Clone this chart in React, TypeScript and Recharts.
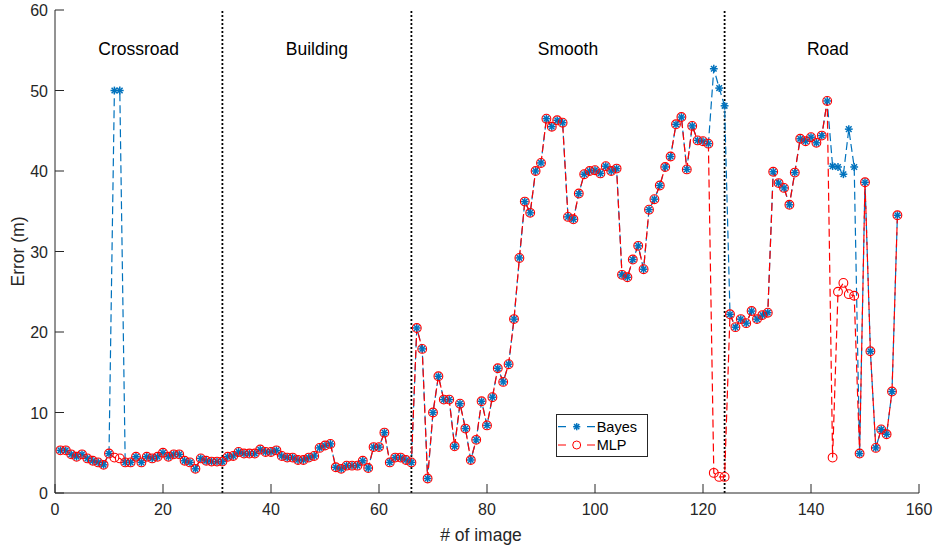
import React from "react";
import {
	LineChart,
	Line,
	XAxis,
	YAxis,
	ReferenceLine,
	ReferenceArea,
	Legend,
} from "recharts";

// error per image (index 1..156)
const bayesError = [
	5.3, 5.3, 4.8, 4.5, 4.8, 4.3, 4.0, 3.8, 3.5, 4.9,
	50.0, 50.0, 3.8, 3.8, 4.5, 3.8, 4.5, 4.3, 4.5, 5.0,
	4.5, 4.8, 4.8, 4.0, 3.8, 3.0, 4.3, 4.0, 3.9, 3.9,
	3.9, 4.5, 4.6, 5.1, 4.9, 4.9, 4.9, 5.4, 5.1, 5.1,
	5.3, 4.6, 4.4, 4.4, 4.1, 4.1, 4.4, 4.6, 5.6, 5.9,
	6.1, 3.2, 3.0, 3.4, 3.4, 3.4, 4.0, 3.1, 5.7, 5.7,
	7.5, 3.8, 4.4, 4.4, 4.1, 3.8, 20.5, 17.9, 1.8, 10.0,
	14.5, 11.6, 11.6, 5.8, 11.1, 8.0, 4.1, 6.6, 11.4, 8.4,
	11.9, 15.5, 13.8, 16.0, 21.6, 29.2, 36.2, 34.8, 40.0, 41.0,
	46.5, 45.5, 46.3, 46.0, 34.3, 34.0, 37.2, 39.6, 40.0, 40.1,
	39.7, 40.6, 40.0, 40.3, 27.1, 26.8, 29.0, 30.7, 27.8, 35.2,
	36.5, 38.2, 40.5, 41.8, 45.8, 46.7, 40.2, 45.6, 43.8, 43.7,
	43.4, 52.7, 50.3, 48.1, 22.2, 20.6, 21.6, 21.1, 22.6, 21.6,
	22.1, 22.4, 39.9, 38.5, 37.9, 35.8, 39.8, 44.0, 43.7, 44.2,
	43.5, 44.4, 48.7, 40.6, 40.5, 39.6, 45.2, 40.5, 4.9, 38.6,
	17.6, 5.6, 7.9, 7.3, 12.6, 34.5,
];

const mlpError = [
	5.3, 5.3, 4.8, 4.5, 4.8, 4.3, 4.0, 3.8, 3.5, 4.9,
	4.4, 4.3, 3.8, 3.8, 4.5, 3.8, 4.5, 4.3, 4.5, 5.0,
	4.5, 4.8, 4.8, 4.0, 3.8, 3.0, 4.3, 4.0, 3.9, 3.9,
	3.9, 4.5, 4.6, 5.1, 4.9, 4.9, 4.9, 5.4, 5.1, 5.1,
	5.3, 4.6, 4.4, 4.4, 4.1, 4.1, 4.4, 4.6, 5.6, 5.9,
	6.1, 3.2, 3.0, 3.4, 3.4, 3.4, 4.0, 3.1, 5.7, 5.7,
	7.5, 3.8, 4.4, 4.4, 4.1, 3.8, 20.5, 17.9, 1.8, 10.0,
	14.5, 11.6, 11.6, 5.8, 11.1, 8.0, 4.1, 6.6, 11.4, 8.4,
	11.9, 15.5, 13.8, 16.0, 21.6, 29.2, 36.2, 34.8, 40.0, 41.0,
	46.5, 45.5, 46.3, 46.0, 34.3, 34.0, 37.2, 39.6, 40.0, 40.1,
	39.7, 40.6, 40.0, 40.3, 27.1, 26.8, 29.0, 30.7, 27.8, 35.2,
	36.5, 38.2, 40.5, 41.8, 45.8, 46.7, 40.2, 45.6, 43.8, 43.7,
	43.4, 2.5, 2.0, 2.0, 22.2, 20.6, 21.6, 21.1, 22.6, 21.6,
	22.1, 22.4, 39.9, 38.5, 37.9, 35.8, 39.8, 44.0, 43.7, 44.2,
	43.5, 44.4, 48.7, 4.4, 25.0, 26.1, 24.7, 24.5, 4.9, 38.6,
	17.6, 5.6, 7.9, 7.3, 12.6, 34.5,
];

const xTicks = [0, 20, 40, 60, 80, 100, 120, 140, 160];
const yTicks = [0, 10, 20, 30, 40, 50, 60];

const sectionNames = ["Crossroad", "Building", "Smooth", "Road"];
const sectionBounds = [0, 31, 66, 124, 160];

const data = bayesError.map((b, i) => ({
	image: i + 1,
	bayes: b,
	mlp: mlpError[i],
}));

const AXIS = "#262626";
const FONT = "'Liberation Sans', Arial, Helvetica, sans-serif";
const BLUE = "#0072BD";
const RED = "#FF0000";
const TICK = 9;

const Star = ({ cx, cy, r = 3.9 }: any) => {
	if (cx == null || cy == null) return <g />;
	const d = r * 0.72;
	return (
		<g stroke={BLUE} strokeWidth={1.5}>
			<line x1={cx - r} x2={cx + r} y1={cy} y2={cy} />
			<line x1={cx} x2={cx} y1={cy - r} y2={cy + r} />
			<line x1={cx - d} x2={cx + d} y1={cy - d} y2={cy + d} />
			<line x1={cx - d} x2={cx + d} y1={cy + d} y2={cy - d} />
		</g>
	);
};

const Ring = ({ cx, cy }: any) => {
	if (cx == null || cy == null) return <g />;
	return <circle cx={cx} cy={cy} r={4.4} fill="none" stroke={RED} strokeWidth={1.1} />;
};

const BottomTick = ({ x, y, payload }: any) => (
	<g>
		<line x1={x} x2={x} y1={y} y2={y - TICK} stroke={AXIS} />
		<text x={x} y={y + 22} textAnchor="middle" fontSize={16} fill={AXIS} fontFamily={FONT}>
			{payload.value}
		</text>
	</g>
);

const LeftTick = ({ x, y, payload }: any) => (
	<g>
		<line x1={x} x2={x + TICK} y1={y} y2={y} stroke={AXIS} />
		<text x={x - 7} y={y + 6} textAnchor="end" fontSize={16} fill={AXIS} fontFamily={FONT}>
			{payload.value}
		</text>
	</g>
);

const TopTick = ({ x, y }: any) => (
	<line x1={x} x2={x} y1={y} y2={y + TICK} stroke={AXIS} />
);

const RightTick = ({ x, y }: any) => (
	<line x1={x} x2={x - TICK} y1={y} y2={y} stroke={AXIS} />
);

const legendItems = [
	{ name: "Bayes", color: BLUE, marker: "star" },
	{ name: "MLP", color: RED, marker: "ring" },
];

const LegendBox = () => (
	<div
		style={{
			width: 92,
			height: 43,
			boxSizing: "border-box",
			border: `1px solid ${AXIS}`,
			background: "#fff",
		}}
	>
		<svg width={90} height={41} style={{ display: "block" }}>
			{legendItems.map((item, i) => {
				const y = 11.7 + i * 18.3;
				return (
					<g key={item.name}>
						<line
							x1={1}
							x2={38}
							y1={y}
							y2={y}
							stroke={item.color}
							strokeWidth={1.2}
							strokeDasharray="8 21"
						/>
						{item.marker === "star" ? (
							<Star cx={19.7} cy={y} r={3.6} />
						) : (
							<circle cx={19.7} cy={y} r={4} fill="none" stroke={RED} />
						)}
						<text x={39.7} y={y + 5} fontSize={14.5} fill="#000" fontFamily={FONT}>
							{item.name}
						</text>
					</g>
				);
			})}
		</svg>
	</div>
);

const XLabel = ({ viewBox }: any) => (
	<text
		x={viewBox.x + viewBox.width / 2 - 6}
		y={540.5}
		textAnchor="middle"
		fontSize={17.5}
		fill={AXIS}
		fontFamily={FONT}
	>
		# of image
	</text>
);

const YLabel = ({ viewBox }: any) => {
	const cy = viewBox.y + viewBox.height / 2;
	return (
		<text
			x={24}
			y={cy}
			transform={`rotate(-90 24 ${cy})`}
			textAnchor="middle"
			fontSize={17.5}
			fill={AXIS}
			fontFamily={FONT}
		>
			Error (m)
		</text>
	);
};

export default function App() {
	return (
		<div style={{ position: "absolute", left: 0, top: 0 }}>
			<LineChart
				width={935}
				height={548}
				data={data}
				margin={{ top: 10, right: 16, bottom: 0, left: 0 }}
			>
				<XAxis
					dataKey="image"
					type="number"
					domain={[0, 160]}
					ticks={xTicks}
					height={55}
					tickLine={false}
					tickSize={0}
					tickMargin={0}
					axisLine={{ stroke: AXIS }}
					tick={<BottomTick />}
					label={<XLabel />}
				/>
				<XAxis
					xAxisId="top"
					orientation="top"
					type="number"
					domain={[0, 160]}
					ticks={xTicks}
					height={0}
					tickLine={false}
					tickSize={0}
					tickMargin={0}
					axisLine={{ stroke: AXIS }}
					tick={<TopTick />}
				/>
				<YAxis
					type="number"
					domain={[0, 60]}
					ticks={yTicks}
					width={55}
					tickLine={false}
					tickSize={0}
					tickMargin={0}
					axisLine={{ stroke: AXIS }}
					tick={<LeftTick />}
					label={<YLabel />}
				/>
				<YAxis
					yAxisId="right"
					orientation="right"
					type="number"
					domain={[0, 60]}
					ticks={yTicks}
					width={0}
					tickLine={false}
					tickSize={0}
					tickMargin={0}
					axisLine={{ stroke: AXIS }}
					tick={<RightTick />}
				/>
				{sectionNames.map((name, i) => (
					<ReferenceArea
						key={name}
						x1={sectionBounds[i]}
						x2={sectionBounds[i + 1]}
						fill="none"
						stroke="none"
						label={{
							value: name,
							position: "insideTop",
							offset: 33,
							fontSize: 17.5,
							fill: "#000",
							fontFamily: FONT,
							dx: i === sectionNames.length - 1 ? 6 : 0,
						}}
					/>
				))}
				{sectionBounds.slice(1, -1).map((b) => (
					<ReferenceLine
						key={b}
						x={b}
						stroke="#000"
						strokeWidth={1.8}
						strokeDasharray="2 2"
					/>
				))}
				<Line
					dataKey="bayes"
					name="Bayes"
					stroke={BLUE}
					strokeWidth={1.2}
					strokeDasharray="8 4"
					dot={(p: any) => <Star key={`b-${p.index}`} cx={p.cx} cy={p.cy} />}
					activeDot={false}
					isAnimationActive={false}
				/>
				<Line
					dataKey="mlp"
					name="MLP"
					stroke={RED}
					strokeWidth={1.2}
					strokeDasharray="8 4"
					dot={(p: any) => <Ring key={`m-${p.index}`} cx={p.cx} cy={p.cy} />}
					activeDot={false}
					isAnimationActive={false}
				/>
				<Legend
					layout="vertical"
					align="center"
					verticalAlign="middle"
					wrapperStyle={{ left: 556, top: 414, width: 92, height: 43 }}
					content={<LegendBox />}
				/>
			</LineChart>
		</div>
	);
}
